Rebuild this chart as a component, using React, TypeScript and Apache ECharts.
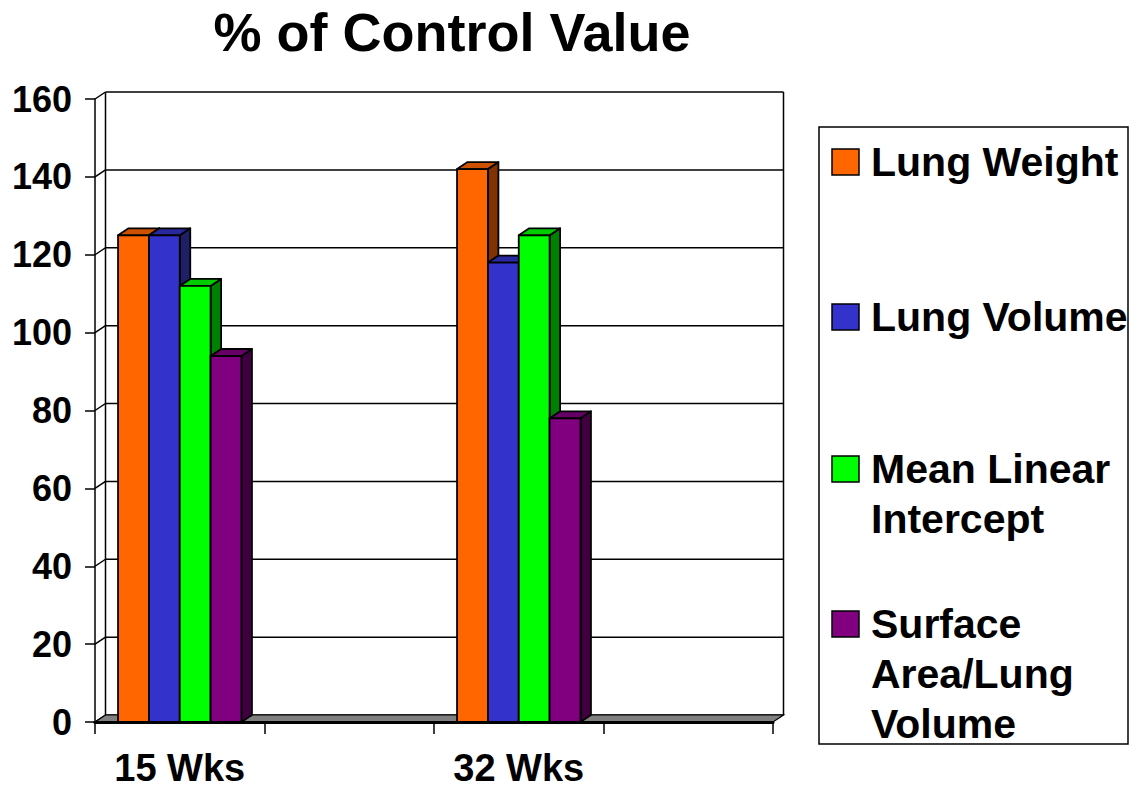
import React, { useEffect, useRef } from 'react';
import * as echarts from 'echarts';

const TITLE = '% of Control Value';
const categories = ['15 Wks', '', '32 Wks', ''];
const seriesNames = ['Lung Weight', 'Lung Volume', 'Mean Linear\nIntercept', 'Surface\nArea/Lung\nVolume'];
const lungWeight = [125, null, 142, null];
const lungVolume = [125, null, 118, null];
const meanLinearIntercept = [112, null, 125, null];
const surfaceAreaLungVolume = [94, null, 78, null];
const seriesValues = [lungWeight, lungVolume, meanLinearIntercept, surfaceAreaLungVolume];
const yMin = 0;
const yMax = 160;
const yInterval = 20;

const frontColors = ['#FF6600', '#3333CC', '#00FF00', '#800080'];
const topColors = ['#CC5200', '#29299F', '#00CC00', '#660066'];
const sideColors = ['#803300', '#1F1F66', '#008000', '#400040'];

const FONT = "'Liberation Sans', Arial, Helvetica, sans-serif";
const DX = 10.5;
const DY = -7;
const BAR_FRAC = 0.182;

const yTickValues: number[] = [];
for (let v = yMin; v <= yMax; v += yInterval) yTickValues.push(v);

export default function App() {
  const ref = useRef<HTMLDivElement>(null);
  useEffect(() => {
    if (!ref.current) return;
    const chart = echarts.init(ref.current, null, { renderer: 'svg' });

    const frameRender = (params: any, api: any) => {
      const cs = params.coordSys;
      const X0 = cs.x;
      const X1 = cs.x + cs.width;
      const yTop = api.coord([0, yMax])[1];
      const yBot = api.coord([0, yMin])[1];
      const children: any[] = [];
      children.push({
        type: 'rect',
        shape: { x: X0 + DX, y: yTop + DY, width: X1 - X0, height: yBot - yTop },
        style: { fill: '#fff' },
      });
      yTickValues.forEach((v) => {
        const y = api.coord([0, v])[1];
        children.push({
          type: 'line',
          shape: { x1: X0 + DX, y1: y + DY, x2: X1 + DX, y2: y + DY },
          style: { stroke: '#000', lineWidth: 1.5 },
        });
        children.push({
          type: 'line',
          shape: { x1: X0, y1: y, x2: X0 + DX, y2: y + DY },
          style: { stroke: '#000', lineWidth: 1.5 },
        });
      });
      children.push({
        type: 'line',
        shape: { x1: X0 + DX, y1: yTop + DY, x2: X0 + DX, y2: yBot + DY },
        style: { stroke: '#000', lineWidth: 1.5 },
      });
      children.push({
        type: 'line',
        shape: { x1: X1 + DX, y1: yTop + DY, x2: X1 + DX, y2: yBot + DY },
        style: { stroke: '#000', lineWidth: 1.5 },
      });
      children.push({
        type: 'polygon',
        shape: { points: [[X0, yBot], [X1, yBot], [X1 + DX, yBot + DY], [X0 + DX, yBot + DY]] },
        style: { fill: '#808080', stroke: '#000', lineWidth: 1.2 },
      });
      return { type: 'group', children };
    };

    const makeBarRender = (k: number) => (params: any, api: any) => {
      const cat = api.value(0);
      const v = api.value(1);
      const base = api.coord([cat, 0]);
      const tp = api.coord([cat, v]);
      const band = api.size([1, 0])[0];
      const w = band * BAR_FRAC;
      const x0 = base[0] - 2 * w + k * w;
      const x1 = x0 + w;
      const yb = base[1];
      const yt = tp[1];
      const stroke = { stroke: '#000', lineWidth: 1.8, lineJoin: 'round' };
      return {
        type: 'group',
        children: [
          {
            type: 'polygon',
            shape: { points: [[x1, yt], [x1 + DX, yt + DY], [x1 + DX, yb + DY], [x1, yb]] },
            style: { fill: sideColors[k], ...stroke },
          },
          {
            type: 'polygon',
            shape: { points: [[x0, yt], [x0 + DX, yt + DY], [x1 + DX, yt + DY], [x1, yt]] },
            style: { fill: topColors[k], ...stroke },
          },
          {
            type: 'rect',
            shape: { x: x0, y: yt, width: w, height: yb - yt },
            style: { fill: frontColors[k], ...stroke },
          },
        ],
      };
    };

    const barSeries = seriesValues.map((vals, k) => ({
      type: 'custom',
      name: seriesNames[k],
      renderItem: makeBarRender(k),
      data: vals
        .map((v, i) => (v == null ? null : [i, v]))
        .filter((d) => d != null),
      encode: { x: 0, y: 1 },
      z: 3,
    }));

    const legendCenters = [162, 317, 469, 624];
    const legendElems: any[] = [
      {
        type: 'rect',
        shape: { x: 819, y: 127, width: 309, height: 617 },
        style: { fill: '#fff', stroke: '#000', lineWidth: 1.5 },
      },
    ];
    seriesNames.forEach((name, k) => {
      const cy = legendCenters[k];
      legendElems.push({
        type: 'rect',
        shape: { x: 832, y: cy - 13, width: 27, height: 26 },
        style: { fill: frontColors[k], stroke: '#000', lineWidth: 1.5 },
      });
      legendElems.push({
        type: 'text',
        x: 871,
        y: cy - 25,
        style: {
          text: name,
          font: `bold 41px ${FONT}`,
          fill: '#000',
          lineHeight: 50,
          textVerticalAlign: 'top',
          verticalAlign: 'top',
          textAlign: 'left',
          align: 'left',
        },
      });
    });

    chart.setOption({
      animation: false,
      backgroundColor: '#fff',
      textStyle: { fontFamily: FONT },
      grid: { left: 95, right: 358, top: 99, bottom: 67, containLabel: false },
      xAxis: {
        type: 'category',
        data: categories,
        boundaryGap: true,
        z: 5,
        axisLine: { show: true, lineStyle: { color: '#000', width: 3 } },
        axisTick: { show: true, length: 12, interval: 0, lineStyle: { color: '#000', width: 1.5 } },
        axisLabel: {
          interval: 0,
          margin: 27,
          color: '#000',
          fontSize: 38,
          lineHeight: 38,
          fontWeight: 'bold',
          fontFamily: FONT,
        },
        splitLine: { show: false },
      },
      yAxis: {
        type: 'value',
        min: yMin,
        max: yMax,
        interval: yInterval,
        axisLine: { show: true, lineStyle: { color: '#000', width: 1.5 } },
        axisTick: { show: true, length: 10, lineStyle: { color: '#000', width: 1.5 } },
        axisLabel: {
          margin: 23,
          color: '#000',
          fontSize: 36,
          fontWeight: 'bold',
          fontFamily: FONT,
        },
        splitLine: { show: false },
      },
      graphic: [
        {
          type: 'text',
          x: 452,
          y: 32,
          style: {
            text: TITLE,
            font: `bold 54px ${FONT}`,
            fill: '#000',
            textAlign: 'center',
            align: 'center',
            textVerticalAlign: 'middle',
            verticalAlign: 'middle',
          },
        },
        ...legendElems,
      ],
      series: [
        {
          type: 'custom',
          name: 'frame',
          renderItem: frameRender,
          data: [[0, 0]],
          encode: { x: 0, y: 1 },
          z: 1,
          silent: true,
        },
        ...barSeries,
      ],
    });
    return () => chart.dispose();
  }, []);
  return (
    <div
      ref={ref}
      style={{ position: 'absolute', left: 0, top: 0, width: 1131, height: 789, background: '#fff' }}
    />
  );
}
